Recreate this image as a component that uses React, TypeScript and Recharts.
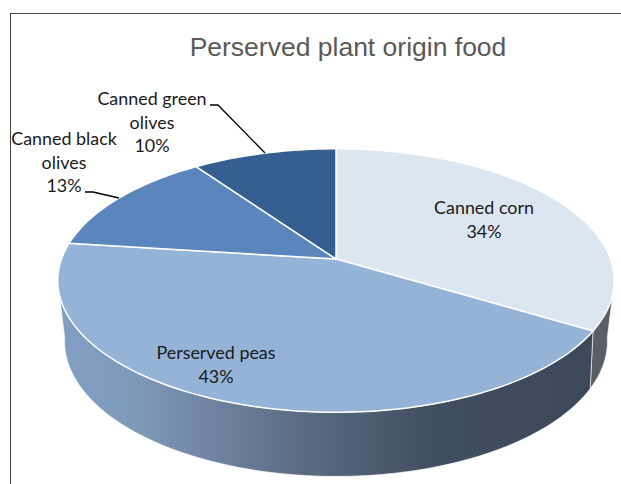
import React from "react";
import { PieChart, Pie } from "recharts";

const categories = ["Canned corn", "Perserved peas", "Canned black olives", "Canned green olives"];
const values = [33.6, 43.4, 13.2, 9.8];
const topColors = ["#dce6f1", "#95b3d7", "#5a85bd", "#365f91"];
const wallFills = ["#5a5f66", "url(#peasWall)", "#5a85bd", "#365f91"];
const labelRows = [["Canned corn"], ["Perserved peas"], ["Canned black", "olives"], ["Canned green", "olives"]];
const labelCentres = [[484, 209], [216, 354], [64, 140], [152, 100]];
const leaderLines = [null, null, "M85 192 L93 192 L119 198", "M210 105 L218 105 L265 153"];

const data = categories.map((name, i) => ({ name, value: values[i], fill: topColors[i], wall: wallFills[i] }));

const W = 621;
const H = 484;
const CX = 336;
const CY = 259;
const R = 278.5;

// Perspective projection of a flat disc: angle is clockwise from the top.
function project(theta: number, cx: number, cy: number, r: number, lower: boolean) {
  const t = (theta * Math.PI) / 180;
  const u = Math.sin(t);
  const v = Math.cos(t);
  const k = lower ? 0.2 : 0.1635;
  const a = (lower ? 0.955 : 0.9856) * r;
  const b = (lower ? 0.466 : 0.4604) * r;
  const w = 1 + k * v;
  const off = lower ? 0.198 * r : 0;
  return [cx + (a * u) / w, cy + off - (b * v) / w];
}

function rim(from: number, to: number, cx: number, cy: number, r: number, lower: boolean) {
  const pts: string[] = [];
  const n = Math.max(2, Math.ceil(Math.abs(to - from) / 1.5));
  for (let i = 0; i <= n; i++) {
    const [x, y] = project(from + ((to - from) * i) / n, cx, cy, r, lower);
    pts.push(`${x.toFixed(2)} ${y.toFixed(2)}`);
  }
  return pts;
}

function Slice3D(props: any) {
  const { cx, cy, outerRadius, startAngle, endAngle, fill, wall } = props;
  const p = props.payload ?? {};
  const th1 = 90 - startAngle;
  const th2 = 90 - endAngle;
  const v1 = Math.max(th1, 100);
  const v2 = Math.min(th2, 260);
  const top = rim(th1, th2, cx, cy, outerRadius, false);
  const wallFill = wall ?? p.wall;
  let wallPath: string | null = null;
  if (v2 > v1) {
    const upper = rim(v1, v2, cx, cy, outerRadius, false);
    const lower = rim(v2, v1, cx, cy, outerRadius, true);
    wallPath = `M${upper.join(" L")} L${lower.join(" L")} Z`;
  }
  return (
    <g>
      {wallPath && <path d={wallPath} fill={wallFill} stroke="#ffffff" strokeOpacity={0.75} strokeWidth={0.8} />}
      <path d={`M${cx} ${cy} L${top.join(" L")} Z`} fill={fill} stroke="#ffffff" strokeWidth={1.5} strokeLinejoin="round" />
    </g>
  );
}

function SliceLabel(props: any) {
  const { index, percent } = props;
  const rows = labelRows[index];
  const [x, y] = labelCentres[index];
  const line = leaderLines[index];
  return (
    <g>
      {line && <path d={line} fill="none" stroke="#000000" strokeWidth={1.3} />}
      <text x={x} y={y} textAnchor="middle" dominantBaseline="middle" fontFamily="Lato" fontSize={17.9} fill="#1a1a1a">
        {rows.map((row, i) => (
          <tspan key={i} x={x} dy={i === 0 ? 0 : 23.6}>{row}</tspan>
        ))}
        <tspan x={x} dy={23.6}>{`${Math.round(percent * 100)}%`}</tspan>
      </text>
    </g>
  );
}

export default function App() {
  return (
    <div style={{ position: "absolute", left: 0, top: 0, width: W, height: H, background: "#fff", overflow: "hidden" }}>
      <div style={{ position: "absolute", left: 10, top: 13, width: W, height: H, borderLeft: "1.5px solid #444", borderTop: "1.5px solid #444" }} />
      <div style={{ position: "absolute", left: 0, top: 0 }}>
        <PieChart width={W} height={H} margin={{ top: 0, right: 0, bottom: 0, left: 0 }}>
          <defs>
            <linearGradient id="peasWall" gradientUnits="userSpaceOnUse" x1={CX - R} x2={CX + R} y1={0} y2={0}>
              <stop offset="0" stopColor="#82a0c4" />
              <stop offset="0.15" stopColor="#7e98b8" />
              <stop offset="0.42" stopColor="#5d6e86" />
              <stop offset="0.68" stopColor="#3f4e61" />
              <stop offset="1" stopColor="#3b4858" />
            </linearGradient>
          </defs>
          <text x={348} y={49} textAnchor="middle" dominantBaseline="middle" fontFamily="'Liberation Sans', Arial, sans-serif" fontSize={26.5} fill="#595959">
            Perserved plant origin food
          </text>
          <Pie
            data={data}
            dataKey="value"
            nameKey="name"
            cx={CX}
            cy={CY}
            outerRadius={R}
            startAngle={90}
            endAngle={-270}
            stroke="none"
            shape={Slice3D}
            label={SliceLabel}
            labelLine={false}
            isAnimationActive={false}
          />
        </PieChart>
      </div>
    </div>
  );
}
